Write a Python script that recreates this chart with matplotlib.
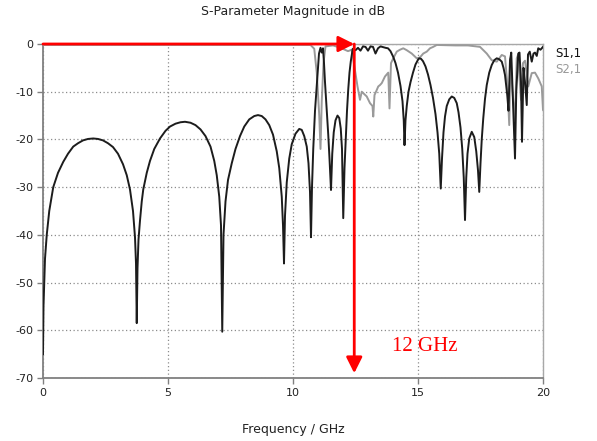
import matplotlib
matplotlib.use("Agg")
import matplotlib.pyplot as plt

# S1,1 trace (GHz, dB)
s11_f = [0.00, 0.02, 0.08, 0.15, 0.25, 0.41, 0.6, 0.81, 1.0, 1.21, 1.4, 1.6, 1.8, 2.01, 2.2, 2.4,
         2.6, 2.8, 3.0, 3.2, 3.35, 3.48, 3.6, 3.68, 3.72, 3.75, 3.78, 3.82, 3.88, 3.95, 4.01, 4.15,
         4.28, 4.45, 4.68, 4.9, 5.08, 5.3, 5.5, 5.68, 5.9, 6.1, 6.3, 6.5, 6.7, 6.85, 6.95, 7.05,
         7.12, 7.17, 7.22, 7.3, 7.4, 7.55, 7.7, 7.88, 8.05, 8.25, 8.45, 8.6, 8.75, 8.9, 9.05, 9.2,
         9.35, 9.45, 9.55, 9.6, 9.64, 9.68, 9.75, 9.85, 9.95, 10.1, 10.25, 10.35, 10.45, 10.55,
         10.62, 10.68, 10.72, 10.76, 10.81, 10.88, 10.95, 11.0, 11.04, 11.10, 11.15, 11.20, 11.24,
         11.28, 11.35, 11.41, 11.46, 11.52, 11.57, 11.63, 11.7, 11.78, 11.85, 11.91, 11.96, 12.01,
         12.06, 12.11, 12.16, 12.21, 12.26, 12.31, 12.39, 12.5, 12.6, 12.7, 12.8, 12.9, 13.0,
         13.1, 13.2, 13.3, 13.4, 13.5, 13.7, 13.8, 13.9, 14.01, 14.1, 14.2, 14.3, 14.38, 14.43,
         14.46, 14.5, 14.55, 14.62, 14.7, 14.8, 14.9, 15.0, 15.05, 15.12, 15.2, 15.3, 15.4, 15.5,
         15.6, 15.7, 15.78, 15.85, 15.91, 15.96, 16.02, 16.08, 16.15, 16.25, 16.35, 16.45, 16.55,
         16.62, 16.7, 16.77, 16.83, 16.88, 16.93, 16.98, 17.05, 17.15, 17.25, 17.33, 17.4, 17.45,
         17.5, 17.55, 17.61, 17.68, 17.75, 17.85, 17.95, 18.05, 18.15, 18.25, 18.35, 18.42, 18.48,
         18.57, 18.62, 18.68, 18.73, 18.80, 18.88, 18.93, 19.01, 19.06, 19.12, 19.16, 19.22, 19.28,
         19.35, 19.40, 19.47, 19.55, 19.62, 19.68, 19.75, 19.81, 19.9, 20.0]
s11_db = [-65, -55, -45, -40, -35, -30, -27, -24.7, -23, -21.5, -20.8, -20.2, -19.9, -19.8, -19.9, -20.2,
          -20.8, -21.6, -23, -25.2, -27.5, -30.5, -35, -40.5, -46, -58.5, -47, -41, -37, -33, -30.5, -27,
          -24.5, -22, -19.8, -18.2, -17.3, -16.7, -16.4, -16.3, -16.5, -17.0, -17.9, -19.3, -21.5, -24.5, -27.5, -32,
          -38, -60.3, -40, -33, -28.5, -25, -22, -19.3, -17.3, -15.8, -15.1, -14.9, -15.1, -15.8, -17.0, -19,
          -22.5, -26, -32, -38, -46, -36, -29, -24, -21, -18.8, -17.8, -18, -19.3, -21.5,
          -25, -31, -40.5, -30, -22, -14, -8.6, -4.5, -2, -0.8, -1.8, -0.9, -4,
          -8, -14, -19, -24, -30.6, -23, -18.5, -16, -15, -15.5, -17.7, -22, -36.5,
          -26, -20, -14, -9.5, -6, -3.7, -1.0, -1.3, -0.8, -1.4, -0.5, -0.6, -1.4,
          -0.5, -0.6, -2.0, -0.9, -0.5, -0.8, -0.9, -1.5, -2.7, -4, -6, -8.8, -12, -16,
          -21.2, -16, -13, -10, -8, -6, -4.3, -3.3, -3.0, -3.1, -3.6, -4.7, -6.4, -8.6,
          -11.3, -14.7, -18.5, -23, -30.3, -24, -18.5, -15.2, -13, -11.6, -11.0, -11.3, -12.4,
          -14.3, -17.5, -22, -28, -36.9, -28, -23, -19.8, -18.4, -19.5, -22.5, -26.5, -31,
          -25, -20, -15.6, -11.5, -8.6, -6, -4.4, -3.4, -3.0, -3.2, -3.7, -5, -6.5,
          -10.7, -14, -3.4, -1.8, -12, -24, -10, -2, -1.8, -8, -20.5, -5, -8,
          -12.8, -2.2, -1.6, -3.7, -2, -1.8, -2.5, -0.9, -1.2, -0.6]

# S2,1 trace (GHz, dB)
s21_f = [0, 10.7, 10.85, 10.95, 11.05, 11.10, 11.15, 11.22, 11.3, 11.6, 11.9, 12.2, 12.35, 12.48,
         12.58, 12.68, 12.75, 12.85, 12.95, 13.08, 13.18, 13.21, 13.26, 13.32, 13.41, 13.48, 13.55,
         13.68, 13.81, 13.86, 13.92, 14.01, 14.15, 14.28, 14.41, 14.55, 14.75, 14.95, 15.08, 15.21,
         15.35, 15.48, 15.61, 15.75, 16.5, 17.0, 17.48, 17.75, 17.95, 18.15, 18.35, 18.48, 18.58,
         18.65, 18.70, 18.78, 18.88, 18.95, 19.0, 19.12, 19.2, 19.28, 19.41, 19.55, 19.68, 19.81,
         19.95, 20.0]
s21_db = [-0.2, -0.2, -1, -6, -15, -22, -12, -4, -0.5, -0.3, -0.8, -1.5, -1.2, -5.5,
          -8.9, -11.7, -10, -10.5, -11, -12.4, -13, -15.2, -10.7, -10, -8.9, -8.6, -8.2,
          -6.8, -6, -13.5, -4, -3, -1.6, -1.2, -0.9, -1.3, -2, -3, -2.8, -2,
          -1.6, -0.9, -0.6, -0.2, -0.3, -0.3, -0.6, -2, -3.4, -3.7, -2.3, -2.6, -8.9,
          -17, -3, -10, -15.9, -3, -2.3, -11.7, -4, -3.5, -8.9, -6.1, -6, -7.2,
          -8.9, -13.8]

x_ticks = [0, 5, 10, 15, 20]
y_ticks = [0, -10, -20, -30, -40, -50, -60, -70]
marker_f = 12.45

fig = plt.figure(figsize=(5.97, 4.41), dpi=100)
ax = fig.add_axes([43 / 597, 1 - 378 / 441, 500 / 597, 334 / 441])

ax.plot(s21_f, s21_db, color="#9a9a9a", lw=1.4, zorder=3)
ax.plot(s11_f, s11_db, color="#1c1c1c", lw=1.4, zorder=4)

ax.set_xlim(0, 20)
ax.set_ylim(-70, 0)
ax.set_xticks(x_ticks)
ax.set_yticks(y_ticks)
ax.set_xticklabels([str(v) for v in x_ticks])
ax.set_yticklabels([str(v) for v in y_ticks])
ax.tick_params(length=4, width=1, color="#808080", labelsize=8, labelcolor="#222222", pad=3)

ax.grid(True, linestyle=(0, (1, 2)), color="#8c8c8c", lw=0.9)
for s in ["left", "bottom"]:
    ax.spines[s].set_color("#808080")
    ax.spines[s].set_linewidth(1.3)
for s in ["top", "right"]:
    ax.spines[s].set_color("#a8a8a8")
    ax.spines[s].set_linewidth(1.0)

# red marker arrows
ax.annotate("", xy=(marker_f, 0), xytext=(0, 0),
            arrowprops=dict(arrowstyle="-|>", color="red", lw=2, mutation_scale=24,
                            shrinkA=0, shrinkB=0), annotation_clip=False, zorder=6)
ax.annotate("", xy=(marker_f, -69), xytext=(marker_f, 0),
            arrowprops=dict(arrowstyle="-|>", color="red", lw=2, mutation_scale=24,
                            shrinkA=0, shrinkB=0), annotation_clip=False, zorder=6)
ax.text(13.95, -63.5, "12 GHz", color="red", fontsize=15, family="Liberation Serif",
        va="center", ha="left")

fig.text(293 / 597, 1 - 12 / 441, "S-Parameter Magnitude in dB", ha="center", va="center",
         fontsize=9, color="#222222")
fig.text(293 / 597, 1 - 430 / 441, "Frequency / GHz", ha="center", va="center",
         fontsize=9, color="#222222")
fig.text(555 / 597, 1 - 53 / 441, "S1,1", ha="left", va="center", fontsize=8.5, color="#111111")
fig.text(555 / 597, 1 - 70 / 441, "S2,1", ha="left", va="center", fontsize=8.5, color="#999999")

fig.savefig("out.png", dpi=100)
